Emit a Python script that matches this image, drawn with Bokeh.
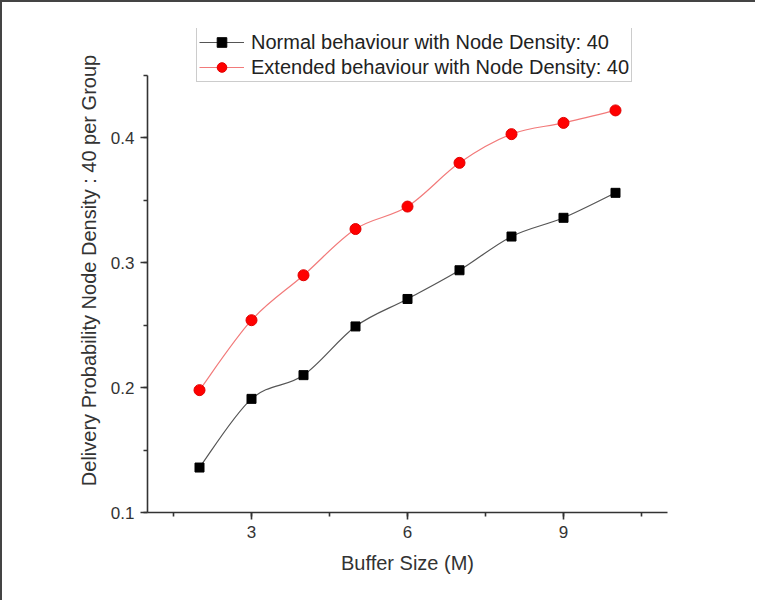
from bokeh.plotting import figure
from bokeh.models import Range1d, SingleIntervalTicker, Legend, LegendItem, ColumnDataSource
from bokeh.embed import file_html
from bokeh.resources import INLINE

# ---- data ----
buffer_size = [2, 3, 4, 5, 6, 7, 8, 9, 10]
normal = [0.136, 0.191, 0.210, 0.249, 0.271, 0.294, 0.321, 0.336, 0.356]
extended = [0.198, 0.254, 0.290, 0.327, 0.345, 0.380, 0.403, 0.412, 0.422]
label_normal = "Normal behaviour with Node Density: 40"
label_extended = "Extended behaviour with Node Density: 40"
x_title = "Buffer Size (M)"
y_title = "Delivery Probability Node Density : 40 per Group"


def spline_source(xs, ys):
    """Catmull-Rom style Bezier segments through the data points (rendering only)."""
    n = len(xs)
    d = dict(x0=[], y0=[], x1=[], y1=[], cx0=[], cy0=[], cx1=[], cy1=[])
    for i in range(n - 1):
        xp, yp = (xs[i - 1], ys[i - 1]) if i > 0 else (xs[i], ys[i])
        xn, yn = (xs[i + 2], ys[i + 2]) if i + 2 < n else (xs[i + 1], ys[i + 1])
        d["x0"].append(xs[i]); d["y0"].append(ys[i])
        d["x1"].append(xs[i + 1]); d["y1"].append(ys[i + 1])
        d["cx0"].append(xs[i] + (xs[i + 1] - xp) / 6.0)
        d["cy0"].append(ys[i] + (ys[i + 1] - yp) / 6.0)
        d["cx1"].append(xs[i + 1] - (xn - xs[i]) / 6.0)
        d["cy1"].append(ys[i + 1] - (yn - ys[i]) / 6.0)
    return ColumnDataSource(d)


FONT = "Liberation Sans"
TXT = "#333333"

p = figure(width=755, height=600, output_backend="svg", toolbar_location=None,
           x_range=Range1d(1, 11), y_range=Range1d(0.1, 0.4876),
           min_border_left=145, min_border_right=90, min_border_top=26, min_border_bottom=90)
p.styles = {"border-top": "2px solid #444444", "border-left": "2px solid #444444"}

p.outline_line_color = None
p.xgrid.visible = False
p.ygrid.visible = False
p.background_fill_color = "white"
p.border_fill_color = "white"

p.xaxis.ticker = SingleIntervalTicker(interval=3, num_minor_ticks=2)
p.yaxis.ticker = SingleIntervalTicker(interval=0.1, num_minor_ticks=2)
p.xaxis.bounds = (1, 11)
p.yaxis.bounds = (0.1, 0.45)
p.xaxis.axis_label = x_title
p.yaxis.axis_label = y_title
for ax in (p.xaxis, p.yaxis):
    ax.axis_line_color = "#333333"
    ax.axis_line_width = 1.6
    ax.major_tick_line_color = "#333333"
    ax.minor_tick_line_color = "#333333"
    ax.major_tick_line_width = 1.6
    ax.minor_tick_line_width = 1.6
    ax.major_tick_in = 0
    ax.major_tick_out = 7
    ax.minor_tick_in = 0
    ax.minor_tick_out = 4
    ax.major_label_text_font = FONT
    ax.major_label_text_font_size = "17px"
    ax.major_label_text_color = TXT
    ax.axis_label_text_font = FONT
    ax.axis_label_text_font_size = "20px"
    ax.axis_label_text_font_style = "normal"
    ax.axis_label_text_color = TXT
p.xaxis.major_label_standoff = 6
p.xaxis.axis_label_standoff = 11
p.yaxis.major_label_standoff = 6
p.yaxis.axis_label_standoff = 8

src_n = spline_source(buffer_size, normal)
src_e = spline_source(buffer_size, extended)

ln = p.bezier(x0="x0", y0="y0", x1="x1", y1="y1", cx0="cx0", cy0="cy0", cx1="cx1", cy1="cy1",
              source=src_n, line_color="#555555", line_width=1.2)
sn = p.scatter(buffer_size, normal, marker="square", size=9, fill_color="black", line_color="black")
le = p.bezier(x0="x0", y0="y0", x1="x1", y1="y1", cx0="cx0", cy0="cy0", cx1="cx1", cy1="cy1",
              source=src_e, line_color="#f27a7a", line_width=1.2)
se = p.scatter(buffer_size, extended, marker="circle", size=11, fill_color="#ff0000", line_color="#e00000")

legend = Legend(items=[LegendItem(label=label_normal, renderers=[ln, sn]),
                       LegendItem(label=label_extended, renderers=[le, se])],
                location=(49, 430), orientation="vertical",
                label_text_font=FONT, label_text_font_size="20px", label_text_color="#222222",
                glyph_width=45, glyph_height=24, label_height=24, label_standoff=7,
                spacing=1, padding=2, margin=0,
                border_line_color="#999999", border_line_width=1,
                background_fill_color="white", background_fill_alpha=1)
p.add_layout(legend, "center")

open("out.html", "w").write(file_html(p, INLINE))
